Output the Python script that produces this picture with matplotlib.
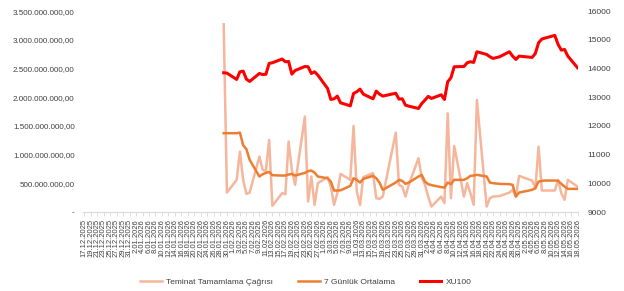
import matplotlib
matplotlib.use("Agg")
import matplotlib.pyplot as plt
import matplotlib.dates as mdates
import pandas as pd
from matplotlib.ticker import FuncFormatter, MultipleLocator

plt.rcParams["font.family"] = ["Liberation Sans", "DejaVu Sans"]

dates = [
    "2026-01-29", "2026-01-30", "2026-02-02", "2026-02-03", "2026-02-04", "2026-02-05", "2026-02-06",
    "2026-02-09", "2026-02-10", "2026-02-11", "2026-02-12", "2026-02-13", "2026-02-16", "2026-02-17",
    "2026-02-18", "2026-02-19", "2026-02-20", "2026-02-23", "2026-02-24", "2026-02-25", "2026-02-26",
    "2026-02-27", "2026-03-02", "2026-03-03", "2026-03-04", "2026-03-05", "2026-03-06", "2026-03-09",
    "2026-03-10", "2026-03-11", "2026-03-12", "2026-03-13", "2026-03-16", "2026-03-17", "2026-03-18",
    "2026-03-19", "2026-03-23", "2026-03-24", "2026-03-25", "2026-03-26", "2026-03-27", "2026-03-30",
    "2026-03-31", "2026-04-01", "2026-04-02", "2026-04-03", "2026-04-06", "2026-04-07", "2026-04-08",
    "2026-04-09", "2026-04-10", "2026-04-13", "2026-04-14", "2026-04-15", "2026-04-16", "2026-04-17",
    "2026-04-20", "2026-04-21", "2026-04-22", "2026-04-24", "2026-04-27", "2026-04-28", "2026-04-29",
    "2026-04-30", "2026-05-04", "2026-05-05", "2026-05-06", "2026-05-07", "2026-05-08", "2026-05-11",
    "2026-05-12", "2026-05-13", "2026-05-14", "2026-05-15", "2026-05-18",
]

# Teminat Tamamlama Çağrısı (left axis)
margin_calls = [
    3.27e9, 3.41e8, 5.62e8, 1.054e9, 5.62e8, 3.18e8, 3.41e8,
    9.67e8, 7.36e8, 7.18e8, 1.257e9, 1.1e8, 3.3e8, 3.13e8,
    1.228e9, 7.36e8, 4.75e8, 1.663e9, 1.85e8, 6.2e8, 1.27e8,
    5.04e8, 6.09e8, 4.45e8, 1.27e8, 3.3e8, 6.66e8, 5.62e8,
    1.5e9, 3.58e8, 1.27e8, 6.09e8, 6.78e8, 2.43e8, 2.3e8,
    2.71e8, 1.384e9, 4.75e8, 4.45e8, 2.71e8, 4.75e8, 9.39e8,
    6.0e8, 4.75e8, 2.71e8, 9.7e7, 2.71e8, 1.57e8, 1.72e9,
    2.43e8, 1.153e9, 2.71e8, 5.04e8, 3.3e8, 1.27e8, 1.953e9,
    9.7e7, 2.43e8, 2.71e8, 2.8e8, 3.4e8, 3.88e8, 2.71e8,
    6.31e8, 5.5e8, 4.17e8, 1.14e9, 3.76e8, 3.76e8, 3.76e8,
    5.62e8, 3.3e8, 2.14e8, 5.62e8, 4.45e8,
]

# 7 Günlük Ortalama (left axis)
avg_7d = [
    1.374e9, 1.374e9, 1.374e9, 1.384e9, 1.165e9, 1.096e9, 9.1e8,
    6.2e8, 6.6e8, 6.83e8, 7.0e8, 6.43e8, 6.37e8, 6.37e8,
    6.54e8, 6.66e8, 6.37e8, 6.83e8, 7.13e8, 7.24e8, 6.89e8,
    6.2e8, 5.9e8, 5.32e8, 3.76e8, 3.76e8, 3.8e8, 4.57e8,
    5.9e8, 5.62e8, 5.15e8, 5.79e8, 6.31e8, 5.9e8, 5.15e8,
    3.88e8, 5.15e8, 5.62e8, 5.44e8, 4.92e8, 5.15e8, 6.2e8,
    6.49e8, 5.32e8, 4.87e8, 4.7e8, 4.35e8, 4.28e8, 5.15e8,
    4.87e8, 5.62e8, 5.62e8, 5.9e8, 6.31e8, 6.37e8, 6.49e8,
    6.2e8, 5.15e8, 5.04e8, 4.92e8, 4.87e8, 4.75e8, 2.71e8,
    3.41e8, 3.88e8, 4.17e8, 5.32e8, 5.44e8, 5.5e8, 5.5e8,
    5.44e8, 4.92e8, 4.45e8, 4.05e8, 4.05e8,
]

# XU100 (right axis)
xu100 = [
    13851, 13840, 13620, 13886, 13910, 13630, 13550,
    13828, 13790, 13800, 14177, 14200, 14330, 14235,
    14245, 13805, 13930, 14070, 14061, 13828, 13886,
    13770, 13305, 12923, 12946, 13039, 12806, 12700,
    13130, 13190, 13282, 13108, 12946, 13213, 13108,
    13039, 13140, 12935, 12946, 12725, 12690, 12609,
    12780, 12900, 13030, 12958, 13085, 12923, 13538,
    13677, 14061, 14070, 14200, 14235, 14212, 14583,
    14490, 14409, 14351, 14409, 14583, 14432, 14316,
    14432, 14386, 14525, 14897, 15025, 15060, 15153,
    14840, 14640, 14664, 14432, 14026,
]

axis_start = "2025-12-17"
axis_end = "2026-05-18"


def tr_number(v, pos):
    if v == 0:
        return "-"
    s = f"{v:,.2f}"
    return s.replace(",", "X").replace(".", ",").replace("X", ".")


def short_date(v, pos):
    d = mdates.num2date(v)
    return f"{d.day}.{d:%m.%Y}"


x = pd.to_datetime(dates)
fig = plt.figure(figsize=(6.24, 2.91), dpi=100)
ax = fig.add_axes([0.133, 0.271, 0.793, 0.691])
ax2 = ax.twinx()

l1, = ax.plot(x, margin_calls, color="#F5B69C", lw=1.8, label="Teminat Tamamlama Çağrısı")
l2, = ax.plot(x, avg_7d, color="#ED7D31", lw=1.8, label="7 Günlük Ortalama")
l3, = ax2.plot(x, xu100, color="#FF0000", lw=2.2, label="XU100")

ax.set_ylim(0, 3.5e9)
ax.yaxis.set_major_locator(MultipleLocator(5e8))
ax.yaxis.set_major_formatter(FuncFormatter(tr_number))
ax2.set_ylim(9000, 16000)
ax2.yaxis.set_major_locator(MultipleLocator(1000))

ticks = pd.date_range(axis_start, axis_end, freq="2D")
ax.set_xlim(pd.Timestamp(axis_start) - pd.Timedelta(hours=8), pd.Timestamp(axis_end) + pd.Timedelta(hours=2))
ax.set_xticks(ticks)
ax.xaxis.set_major_formatter(FuncFormatter(short_date))

for a in (ax, ax2):
    for side in ("top", "left", "right", "bottom"):
        a.spines[side].set_visible(False)
ax.spines["bottom"].set_visible(True)
ax.spines["bottom"].set_color("#D9D9D9")
ax.spines["bottom"].set_linewidth(0.8)

ax.tick_params(axis="x", labelsize=5.5, rotation=90, color="#D9D9D9", length=3, width=0.6,
               labelcolor="#404040", pad=2)
ax.tick_params(axis="y", labelsize=5.8, length=0, labelcolor="#404040", pad=6)
ax2.tick_params(axis="y", labelsize=6, length=0, labelcolor="#404040", pad=7)

fig.legend(handles=[l1, l2, l3], loc="center", bbox_to_anchor=(0.49, 0.03), ncol=3,
           frameon=False, fontsize=6, handlelength=2.6, columnspacing=3.0, handletextpad=0.5,
           labelcolor="#404040")

fig.savefig("out.png", dpi=100)
